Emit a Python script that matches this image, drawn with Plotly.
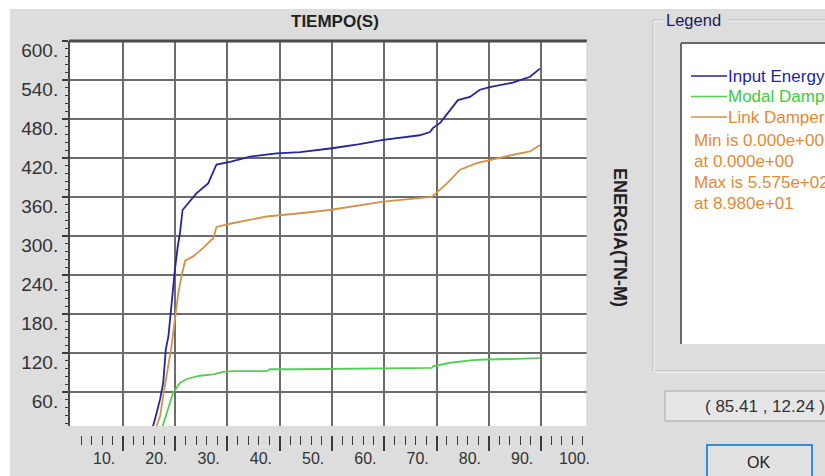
import plotly.graph_objects as go

# ---------------- data ----------------
time_input = [0.0, 15.5, 16.45, 17.1, 17.7, 18.2, 18.7, 19.1, 19.5, 19.95, 20.5, 20.9, 21.4,
              22.2, 24.1, 26.3, 27.6, 27.9, 30.5, 34.3, 39.4, 43.9, 50.0, 55.0, 59.8, 66.8,
              68.75, 69.3, 70.7, 72.2, 74.1, 76.4, 78.3, 80.2, 84.6, 87.9, 89.8]
input_energy = [0.0, 0.0, 28, 49, 74, 126, 146, 182, 208, 249, 285, 304, 340,
                348, 366, 381, 407, 410, 414, 422, 427, 429, 435, 441, 448, 455,
                460, 466, 474, 489, 509, 514, 525, 529, 536, 545, 557.5]

time_modal = [0.0, 17.3, 18.4, 19.6, 20.9, 22.2, 24.7, 27.3, 29.2, 31.0, 37.5, 38.1, 43.9,
              53.4, 69.1, 69.4, 72.6, 77.0, 79.6, 85.3, 89.8]
modal_damping = [0.0, 0.0, 28, 59, 74, 80, 85, 87, 91, 92, 92, 95, 95,
                 96, 97, 100, 105, 109, 110, 111, 112]

time_link = [0.0, 16.2, 16.45, 17.1, 17.7, 18.4, 19.3, 19.95, 20.6, 21.2, 21.9, 23.5, 25.4,
             27.3, 27.9, 31.1, 37.5, 43.9, 49.6, 59.8, 69.1, 72.0, 74.5, 77.7, 80.2, 84.7,
             87.9, 89.8]
link_damper = [0.0, 0.0, 8, 23, 54, 85, 131, 172, 213, 238, 262, 269, 282,
               297, 314, 320, 330, 335, 340, 353, 360, 381, 402, 412, 417, 425,
               430, 440]

series_names = ["Input Energy", "Modal Damping Energy", "Link Damper Energy"]
line_colors = ["#25259c", "#52cf52", "#d3934a"]
text_colors = ["#2323a6", "#3fc83f", "#e48a33"]

x_grid_vals = [10, 20, 30, 40, 50, 60, 70, 80, 90]
x_label_vals = [10, 20, 30, 40, 50, 60, 70, 80, 90, 100]
x_label_text = ["10.", "20.", "30.", "40.", "50.", "60.", "70.", "80.", "90.", "100."]
y_tick_vals = [60, 120, 180, 240, 300, 360, 420, 480, 540, 600]
y_tick_text = ["60.", "120.", "180.", "240.", "300.", "360.", "420.", "480.", "540.", "600."]

x_title = "TIEMPO(S)"
y_title = "ENERGIA(TN-M)"
cursor_text = "( 85.41 , 12.24 )"

# ---------------- layout geometry ----------------
W, H = 825, 476
ML, MR, MT, MB = 69, 238, 41, 20
PW = W - ML - MR          # 518
PH = H - MT - MB          # 415
PLOT_BOTTOM = 426
X_RANGE = [-0.33, 98.8]
Y_RANGE = [7.7, 600]
LABEL_SHIFT = 3.6


def fx(px):
    return (px - ML) / PW


def fy(py):
    return (H - MB - py) / PH


FONT = "Arial, 'Liberation Sans', sans-serif"
GRID = "#6c6c6c"
BG = "#dddddd"

fig = go.Figure()
series = [(time_input, input_energy), (time_modal, modal_damping), (time_link, link_damper)]
# draw in order so that blue is on top
for idx in [1, 2, 0]:
    t, v = series[idx]
    fig.add_trace(go.Scatter(x=t, y=v, mode="lines", name=series_names[idx],
                             line=dict(color=line_colors[idx], width=1.8),
                             showlegend=False))

# dummy traces to register helper axes
fig.add_trace(go.Scatter(x=[], y=[], xaxis="x2", yaxis="y", showlegend=False, hoverinfo="skip"))
fig.add_trace(go.Scatter(x=[], y=[], xaxis="x3", yaxis="y", showlegend=False, hoverinfo="skip"))

minor_x = [v for v in range(2, 99, 2) if v % 10 != 0]
minor_y = [v for v in range(12, 600, 12) if v % 60 != 0]

fig.update_layout(
    width=W, height=H,
    margin=dict(l=ML, r=MR, t=MT, b=MB, pad=0, autoexpand=False),
    paper_bgcolor=BG, plot_bgcolor="white",
    font=dict(family=FONT, color="#333333"),
    showlegend=False,
    xaxis=dict(range=X_RANGE, anchor="y", tickmode="array", tickvals=x_grid_vals,
               showticklabels=False, ticks="", showgrid=True, gridcolor=GRID, gridwidth=2,
               zeroline=False, showline=False, fixedrange=True),
    xaxis2=dict(range=X_RANGE, overlaying="x", anchor="free", position=fy(435),
                tickmode="array", tickvals=x_grid_vals, ticks="outside", ticklen=15,
                tickwidth=1.5, tickcolor="#3a3a3a", showticklabels=False, showgrid=False,
                zeroline=False, showline=False, fixedrange=True,
                minor=dict(tickmode="array", tickvals=minor_x, ticks="outside", ticklen=9,
                           tickwidth=1.3, tickcolor="#3a3a3a", showgrid=False)),
    xaxis3=dict(range=[X_RANGE[0] + LABEL_SHIFT, X_RANGE[1] + LABEL_SHIFT], overlaying="x",
                anchor="free", position=fy(435), tickmode="array", tickvals=x_label_vals,
                ticktext=x_label_text, ticks="", showgrid=False, zeroline=False,
                showline=False, tickfont=dict(size=16, color="#333333"),
                ticklabelstandoff=12, fixedrange=True),
    yaxis=dict(domain=[fy(PLOT_BOTTOM), 1], range=Y_RANGE, tickmode="array",
               tickvals=y_tick_vals, ticktext=y_tick_text, ticks="outside", ticklen=6,
               tickwidth=1.5, tickcolor="#3a3a3a", showgrid=True, gridcolor=GRID,
               gridwidth=2, zeroline=False, showline=False,
               tickfont=dict(size=19, color="#333333"), ticklabelshift=9,
               fixedrange=True,
               minor=dict(tickmode="array", tickvals=minor_y, ticks="outside", ticklen=3,
                          tickwidth=1.3, tickcolor="#3a3a3a", showgrid=False)),
)

shapes = []


def pline(x0, y0, x1, y1, color, width=1):
    shapes.append(dict(type="line", xref="paper", yref="paper", x0=fx(x0), y0=fy(y0),
                       x1=fx(x1), y1=fy(y1), line=dict(color=color, width=width)))


def prect(x0, y0, x1, y1, fill, color=None, width=0, layer="above"):
    shapes.append(dict(type="rect", xref="paper", yref="paper", x0=fx(x0), y0=fy(y0),
                       x1=fx(x1), y1=fy(y1), fillcolor=fill, layer=layer,
                       line=dict(color=color or fill, width=width)))


# white strips at top and left of the screenshot
prect(0, 0, W + 5, 9, "white")
prect(0, 0, 10, H + 5, "white")

# plot borders
shapes.append(dict(type="line", xref="x domain", yref="y domain", x0=0, x1=1, y0=1, y1=1,
                   line=dict(color="#4a4a4a", width=3)))
shapes.append(dict(type="line", xref="x domain", yref="y domain", x0=0, x1=0, y0=0, y1=1,
                   line=dict(color="#4a4a4a", width=2)))
shapes.append(dict(type="line", xref="x domain", yref="y domain", x0=1, x1=1, y0=0, y1=1,
                   line=dict(color="#cfcfcf", width=1)))

# legend group box (etched)
for off, col in [(0, "#b2b2b2"), (1, "#f7f7f7")]:
    pline(653 + off, 20 + off, 663, 20 + off, col)
    pline(727, 20 + off, W + 5, 20 + off, col)
    pline(653 + off, 20 + off, 653 + off, 371 + off, col)
    pline(653 + off, 371 + off, W + 5, 371 + off, col)

# inner legend box
prect(681, 43, W + 5, 344, "white")
pline(681, 43, 681, 344, "#6a6a6a", 2)
pline(681, 43, W + 5, 43, "#6a6a6a", 2)

# cursor readout box
prect(665, 391, W + 5, 421, "#e6e6e6", "#a6a6a6", 1)
# OK button
prect(707, 445, 812, H + 10, "#e1e1e1", "#2f8fd8", 2)

annotations = []


def ptext(text, px, py, size, color, xanchor="left", bold=False, angle=0):
    if bold:
        text = "<b>" + text + "</b>"
    annotations.append(dict(text=text, xref="paper", yref="paper", x=fx(px), y=fy(py),
                            xanchor=xanchor, yanchor="middle", showarrow=False,
                            textangle=angle,
                            font=dict(family=FONT, size=size, color=color)))


ptext(x_title, 335, 22, 17, "#222222", "center", bold=True)
ptext(y_title, 620, 237, 18, "#222222", "center", bold=True, angle=90)
ptext("Legend", 664, 20, 16.5, "#1c1c50")

for i, name in enumerate(series_names):
    yc = 76 + i * 20.5
    pline(691, yc, 727, yc, line_colors[i], 1.5)
    ptext(name, 726, yc, 17, text_colors[i])

imin = min(range(len(input_energy)), key=lambda k: input_energy[k])
imax = max(range(len(input_energy)), key=lambda k: input_energy[k])
stats = ["Min is {:.3e}".format(input_energy[imin]), "at {:.3e}".format(time_input[imin]),
         "Max is {:.3e}".format(input_energy[imax]), "at {:.3e}".format(time_input[imax])]
for i, s in enumerate(stats):
    ptext(s, 692, 140 + i * 21.3, 17, text_colors[2])

ptext(cursor_text, 703, 406, 17, "#333333")
ptext("OK", 758, 462, 16, "#222222", "center")

fig.update_layout(shapes=shapes, annotations=annotations)
fig.write_html("out.html", config={"displayModeBar": False})
